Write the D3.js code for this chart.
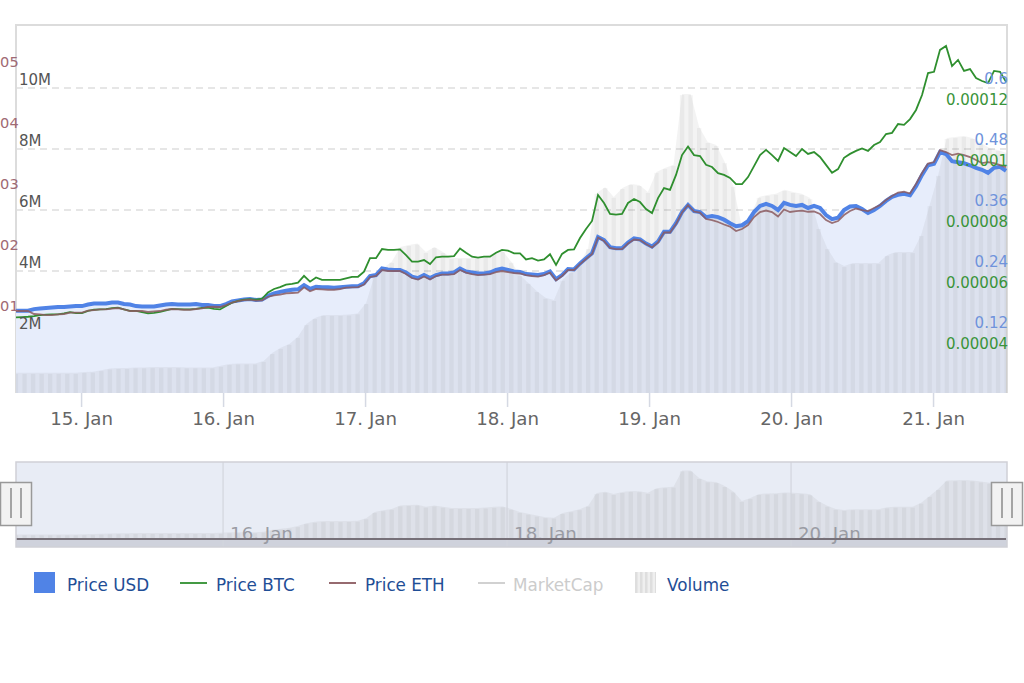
<!DOCTYPE html>
<html>
<head>
<meta charset="utf-8">
<script src="https://cdn.jsdelivr.net/npm/d3@7.9.0/dist/d3.min.js"></script>
<style>
  html, body { margin: 0; padding: 0; background: #fff; overflow: hidden; }
  svg { display: block; font-family: "DejaVu Sans", sans-serif; }
</style>
</head>
<body>
<svg id="chart" width="1024" height="683"></svg>
<script>
// hourly-ish samples of the three prices
const priceUsd = [
  .162,.162,.162,.165,.166,.167,.168,.169,.169,.170,.171,.171,.174,.176,.176,.176,.178,.178,.175,.174,
  .171,.170,.170,.170,.172,.174,.175,.174,.174,.174,.175,.173,.173,.171,.171,.175,.180,.182,.184,.185,
  .183,.184,.191,.196,.199,.201,.203,.204,.212,.205,.209,.208,.208,.207,.208,.209,.210,.210,.216,.230,
  .232,.245,.243,.242,.242,.237,.229,.226,.232,.226,.232,.235,.235,.237,.245,.239,.237,.235,.235,.237,
  .242,.245,.242,.239,.238,.234,.233,.232,.234,.239,.224,.232,.244,.243,.255,.265,.275,.307,.301,.287,
  .285,.285,.296,.304,.302,.294,.288,.298,.317,.317,.334,.356,.370,.358,.356,.346,.348,.346,.341,.334,
  .328,.330,.338,.356,.368,.372,.368,.360,.374,.370,.368,.370,.364,.368,.364,.350,.342,.345,.360,.367,
  .368,.362,.354,.360,.368,.378,.386,.390,.392,.389,.407,.429,.448,.451,.474,.470,.456,.454,.452,.448,
  .443,.439,.433,.443,.445,.437
];
// in 1e-5 BTC
const priceBtc = [
  4.48,4.49,4.50,4.52,4.55,4.57,4.58,4.58,4.61,4.65,4.62,4.62,4.69,4.73,4.74,4.75,4.78,4.80,4.74,4.69,
  4.69,4.65,4.61,4.63,4.66,4.71,4.76,4.75,4.74,4.74,4.76,4.79,4.80,4.76,4.74,4.85,4.96,5.02,5.06,5.08,
  5.06,5.09,5.30,5.41,5.47,5.55,5.58,5.62,5.84,5.65,5.79,5.71,5.71,5.71,5.71,5.76,5.81,5.81,5.98,6.42,
  6.42,6.72,6.69,6.69,6.71,6.52,6.31,6.31,6.36,6.23,6.45,6.47,6.47,6.49,6.74,6.60,6.47,6.44,6.47,6.47,
  6.60,6.69,6.67,6.58,6.58,6.38,6.42,6.34,6.38,6.55,6.20,6.56,6.69,6.71,7.08,7.38,7.64,8.49,8.23,7.87,
  7.85,7.87,8.23,8.36,8.26,8.03,7.90,8.39,8.72,8.66,9.15,9.80,10.08,9.80,9.77,9.48,9.41,9.21,9.15,9.05,
  8.85,8.85,9.08,9.44,9.80,9.97,9.80,9.61,10.03,9.90,9.77,10.00,9.84,9.90,9.74,9.48,9.22,9.34,9.71,9.84,
  9.94,10.02,9.94,10.13,10.23,10.49,10.53,10.82,10.79,10.98,11.28,11.77,12.49,12.53,13.25,13.38,12.72,12.92,12.56,12.62,
  12.33,12.23,12.16,12.56,12.53,12.20
];
// in 1e-4 ETH
const priceEth = [
  1.344,1.344,1.344,1.295,1.290,1.278,1.278,1.290,1.295,1.316,1.316,1.316,1.349,1.360,1.372,1.372,1.382,1.393,1.372,1.344,
  1.344,1.344,1.328,1.339,1.344,1.365,1.377,1.372,1.365,1.365,1.377,1.388,1.410,1.414,1.410,1.442,1.480,1.508,1.524,1.529,
  1.513,1.519,1.578,1.601,1.611,1.634,1.639,1.644,1.732,1.667,1.705,1.700,1.693,1.693,1.705,1.726,1.732,1.737,1.778,1.901,
  1.918,2.016,2.000,2.000,2.000,1.950,1.885,1.860,1.909,1.860,1.918,1.942,1.942,1.950,2.016,1.975,1.950,1.934,1.942,1.950,
  1.983,2.000,1.983,1.967,1.959,1.934,1.918,1.909,1.934,1.975,1.844,1.918,2.016,2.016,2.114,2.196,2.278,2.549,2.491,2.377,
  2.360,2.360,2.450,2.516,2.508,2.442,2.385,2.467,2.631,2.631,2.770,2.958,3.081,2.975,2.958,2.852,2.835,2.803,2.762,2.729,
  2.655,2.688,2.754,2.885,2.967,2.991,2.967,2.893,3.008,2.967,2.983,2.991,2.971,2.975,2.934,2.835,2.786,2.819,2.917,2.983,
  3.024,2.999,2.983,3.032,3.081,3.163,3.229,3.286,3.299,3.270,3.426,3.606,3.761,3.786,3.983,3.950,3.901,3.925,3.901,3.868,
  3.819,3.770,3.786,3.770,3.737,3.704
];
// in millions
const volume = [
  .66,.66,.66,.66,.66,.66,.66,.66,.69,.70,.75,.80,.82,.82,.84,.84,.85,.85,.85,.85,
  .84,.84,.84,.84,.89,.95,.97,.97,.97,1.05,1.31,1.48,1.61,1.84,2.26,2.46,2.56,2.56,2.56,2.57,
  2.61,2.95,3.87,4.10,4.30,4.79,4.85,4.90,4.62,4.79,4.62,4.43,4.43,4.43,4.43,4.49,4.59,4.66,4.30,3.87,
  3.61,3.34,3.12,3.05,3.71,3.97,4.26,4.75,6.56,6.75,6.43,6.72,6.85,6.82,6.59,7.25,7.38,7.48,9.80,9.80,
  8.72,8.23,8.13,7.57,6.79,5.44,5.84,6.43,6.49,6.53,6.66,6.59,6.53,6.39,5.41,4.75,4.30,4.16,4.26,4.26,
  4.26,4.26,4.52,4.62,4.62,4.62,5.18,6.16,7.15,8.36,8.39,8.43,8.36,8.20,8.03,7.97,7.87
];

const volumeTicks = [2, 4, 6, 8, 10];
const usdTicks = [0.12, 0.24, 0.36, 0.48, 0.6];
const btcTicks = [4, 6, 8, 10, 12];
const btcTickLabels = ["0.00004", "0.00006", "0.00008", "0.0001", "0.00012"];
const ethTicks = [1, 2, 3, 4, 5];
// only the tail of these labels shows at the page edge
const ethTickLabels = ["01", "02", "03", "04", "05"];
const dayTicks = [15, 16, 17, 18, 19, 20, 21];
const navDayTicks = [16, 18, 20];
const legendNames = ["Price USD", "Price BTC", "Price ETH", "MarketCap", "Volume"];

const BLUE = "#5083e6", GREEN = "#2f8f2f", BROWN = "#8b5a5f";

const svg = d3.select("#chart");
const plot = { left: 16, right: 1007, top: 25, bottom: 393 };
const nav = { top: 462, bottom: 547, zero: 539 };

const day = d => new Date(Date.UTC(2018, 0, d));
const start = new Date(Date.UTC(2018, 0, 14, 13));
const end = new Date(Date.UTC(2018, 0, 21, 12, 30));
const priceTime = i => new Date(+start + i * 60.85 * 60000);
const barTime = i => new Date(+start + i * 86.6 * 60000);

const x = d3.scaleUtc().domain([start, end]).range([plot.left, plot.right]);
const yVol = d3.scaleLinear().domain([0, 10]).range([plot.bottom, 88]);
const yUsd = d3.scaleLinear().domain([0, 0.6]).range([plot.bottom, 88]);
const yBtc = d3.scaleLinear().domain([2, 12]).range([plot.bottom, 88]);
const yEth = d3.scaleLinear().domain([0, 5]).range([plot.bottom, 88]);
const yNav = d3.scaleLinear().domain([0, 10]).range([nav.zero, 469]);

svg.append("defs").append("clipPath").attr("id", "plot-clip")
  .append("rect")
  .attr("x", plot.left).attr("y", plot.top)
  .attr("width", plot.right - plot.left).attr("height", plot.bottom - plot.top);
svg.select("defs").append("clipPath").attr("id", "nav-clip")
  .append("rect")
  .attr("x", plot.left).attr("y", nav.top)
  .attr("width", plot.right - plot.left).attr("height", nav.bottom - nav.top);

const hatch = svg.select("defs").append("pattern").attr("id", "hatch")
  .attr("width", 5).attr("height", 5).attr("patternUnits", "userSpaceOnUse");
hatch.append("rect").attr("width", 5).attr("height", 5).attr("fill", "#efefef");
hatch.append("rect").attr("width", 2.5).attr("height", 5).attr("fill", "#dedede");

// gridlines
svg.append("g").selectAll("line").data(volumeTicks).join("line")
  .attr("x1", plot.left).attr("x2", plot.right)
  .attr("y1", d => yVol(d)).attr("y2", d => yVol(d))
  .attr("stroke", "#dedede").attr("stroke-width", 1.3).attr("stroke-dasharray", "7,5");

// plot frame
svg.append("path")
  .attr("d", `M${plot.left},${plot.bottom}V${plot.top}H${plot.right}V${plot.bottom}`)
  .attr("fill", "none").attr("stroke", "#dcdcdc").attr("stroke-width", 2);

const main = svg.append("g").attr("clip-path", "url(#plot-clip)");

// USD area
main.append("path").datum(priceUsd)
  .attr("fill", "#e7edfb")
  .attr("d", d3.area().x((d, i) => x(priceTime(i))).y0(plot.bottom).y1(d => yUsd(d)));

// volume: soft silhouette with the columns striped on top of it
const barStep = x(barTime(1)) - x(barTime(0));
const barWidth = barStep * 0.5;
const volumeShape = (g, y, floor) => {
  g.append("path").datum(volume)
    .attr("fill", "#6f6f78").attr("fill-opacity", 0.085)
    .attr("d", d3.area().x((d, i) => x(barTime(i))).y0(floor).y1(d => y(d)));
  g.append("g").selectAll("rect").data(volume).join("rect")
    .attr("x", (d, i) => x(barTime(i)) - barWidth / 2)
    .attr("y", d => y(d) + 1)
    .attr("width", barWidth)
    .attr("height", d => floor - y(d) - 1)
    .attr("fill", "#6f6f78").attr("fill-opacity", 0.08);
};
volumeShape(main, yVol, plot.bottom);

const lineOf = y => d3.line().x((d, i) => x(priceTime(i))).y(d => y(d));
main.append("path").datum(priceUsd)
  .attr("fill", "none").attr("stroke", BLUE).attr("stroke-width", 4)
  .attr("d", lineOf(yUsd));
main.append("path").datum(priceBtc)
  .attr("fill", "none").attr("stroke", GREEN).attr("stroke-width", 1.8)
  .attr("d", lineOf(yBtc));
main.append("path").datum(priceEth)
  .attr("fill", "none").attr("stroke", BROWN).attr("stroke-width", 1.8).attr("stroke-opacity", 0.85)
  .attr("d", lineOf(yEth));

// x axis
const xAxis = svg.append("g")
  .attr("transform", `translate(0,${plot.bottom})`)
  .call(d3.axisBottom(x).tickValues(dayTicks.map(day)).tickFormat(d3.utcFormat("%-d. %b")).tickSize(14));
xAxis.select(".domain").remove();
xAxis.selectAll("line").attr("stroke", "#d5d9e3").attr("stroke-width", 1.5);
xAxis.selectAll("text")
  .attr("y", 32).attr("dy", 0)
  .attr("font-family", "DejaVu Sans").attr("font-size", 18.2).attr("fill", "#666");

// y axes, labels sit inside the plot like in the original
const yLabelAxis = (axis, dx, dy, color, anchor, size) => {
  const g = svg.append("g").call(axis.tickSize(0));
  g.select(".domain").remove();
  g.selectAll("line").remove();
  g.selectAll("text")
    .attr("x", dx).attr("dy", 0).attr("y", dy)
    .attr("text-anchor", anchor)
    .attr("font-family", "DejaVu Sans").attr("font-size", size).attr("fill", color);
};
yLabelAxis(d3.axisRight(yEth).tickValues(ethTicks).tickFormat((d, i) => ethTickLabels[i]), 18.7, -22, "#a06a74", "end", 14.6);
yLabelAxis(d3.axisRight(yVol).tickValues(volumeTicks).tickFormat(d => d + "M"), 19, -4, "#555", "start", 15);
yLabelAxis(d3.axisLeft(yUsd).tickValues(usdTicks).tickFormat(d => d), 1008, -4.5, "#6f93db", "end", 15);
yLabelAxis(d3.axisLeft(yBtc).tickValues(btcTicks).tickFormat((d, i) => btcTickLabels[i]), 1008, 16, "#3a943a", "end", 15);

// navigator
const navG = svg.append("g").attr("clip-path", "url(#nav-clip)");
navG.append("rect")
  .attr("x", plot.left).attr("y", nav.top)
  .attr("width", plot.right - plot.left).attr("height", nav.bottom - nav.top)
  .attr("fill", "#e8ecf5");
volumeShape(navG, yNav, nav.zero);
navG.append("rect")
  .attr("x", plot.left).attr("y", nav.zero).attr("width", plot.right - plot.left)
  .attr("height", nav.bottom - nav.zero).attr("fill", "#6f6f78").attr("fill-opacity", 0.2);
navG.append("g").selectAll("line").data(navDayTicks).join("line")
  .attr("x1", d => x(day(d))).attr("x2", d => x(day(d)))
  .attr("y1", nav.top).attr("y2", nav.bottom)
  .attr("stroke", "#d2d5dd").attr("stroke-width", 1.2);
navG.append("g").selectAll("text").data(navDayTicks).join("text")
  .attr("x", d => x(day(d)) + 7).attr("y", 540)
  .attr("font-size", 18.2).attr("fill", "#9a9ca4")
  .text(d => d3.utcFormat("%-d. %b")(day(d)));
// price lines sit on the floor of the volume scale here
navG.append("path").datum(priceEth.map(d => d * 1e-4))
  .attr("fill", "none").attr("stroke", "#767078").attr("stroke-width", 2)
  .attr("d", d3.line().x((d, i) => x(priceTime(i))).y(d => yNav(d)));
svg.append("rect")
  .attr("x", plot.left).attr("y", nav.top)
  .attr("width", plot.right - plot.left).attr("height", nav.bottom - nav.top)
  .attr("fill", "none").attr("stroke", "#cfd0d6").attr("stroke-width", 1.5);

// navigator handles
const handles = svg.append("g").selectAll("g").data([plot.left, plot.right]).join("g")
  .attr("transform", d => `translate(${d},482)`);
handles.append("rect")
  .attr("x", -15.5).attr("y", 0.5).attr("width", 31).attr("height", 43)
  .attr("fill", "#f2f2f2").attr("stroke", "#999").attr("stroke-width", 1.5);
handles.append("path")
  .attr("d", "M-5,6V36M5,6V36")
  .attr("fill", "none").attr("stroke", "#8a8a8a").attr("stroke-width", 1.5);

// legend
const legendX = [67, 216, 365, 513, 667];
const legendColor = ["#1f4e96", "#1f4e96", "#1f4e96", "#cccccc", "#1f4e96"];
const legend = svg.append("g");
legend.selectAll("text").data(legendNames).join("text")
  .attr("x", (d, i) => legendX[i]).attr("y", 590.5)
  .attr("font-size", 16.8).attr("fill", (d, i) => legendColor[i])
  .text(d => d);
legend.append("rect").attr("x", 34).attr("y", 572).attr("width", 21).attr("height", 21).attr("fill", BLUE);
legend.append("rect").attr("x", 635).attr("y", 572).attr("width", 21).attr("height", 21).attr("fill", "url(#hatch)");
const legendLines = [[180, GREEN], [329, BROWN], [478, "#cccccc"]];
legend.selectAll("line").data(legendLines).join("line")
  .attr("x1", d => d[0]).attr("x2", d => d[0] + 27)
  .attr("y1", 583).attr("y2", 583)
  .attr("stroke", d => d[1]).attr("stroke-width", 1.8);
</script>
</body>
</html>
